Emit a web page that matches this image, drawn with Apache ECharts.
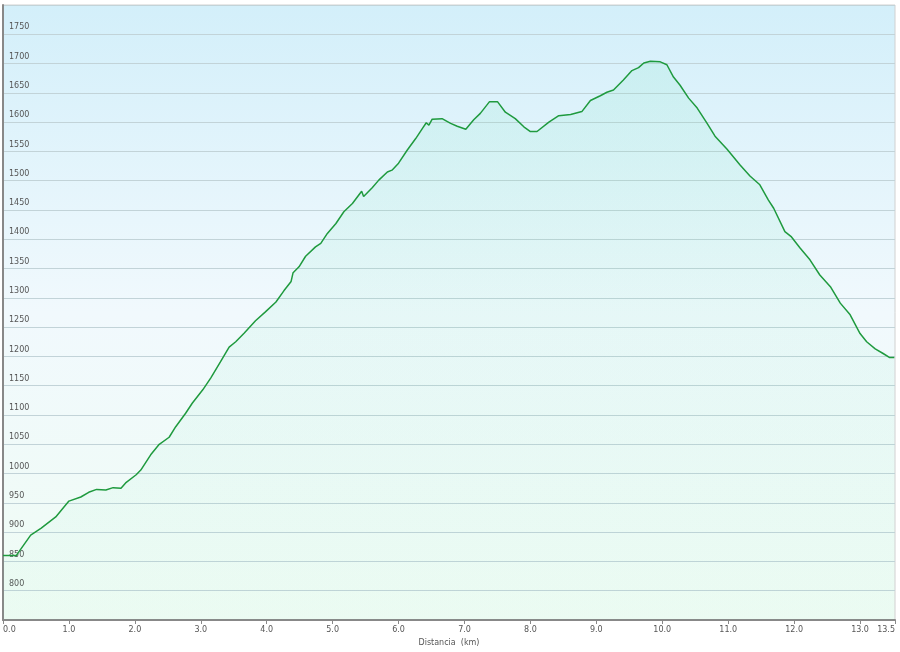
<!DOCTYPE html>
<html>
<head>
<meta charset="utf-8">
<script src="https://cdn.jsdelivr.net/npm/echarts@6/dist/echarts.min.js"></script>
<style>
	html, body { margin: 0; padding: 0; background: #fff; }
	#profileChart { width: 900px; height: 652px; }
</style>
</head>
<body>
<div id="profileChart"></div>
<script>
var distKm = [0, 0.20, 0.42, 0.58, 0.80, 1.00, 1.18, 1.30, 1.42, 1.56, 1.67, 1.79, 1.86, 2.02, 2.09, 2.24,
	2.37, 2.52, 2.62, 2.77, 2.87, 3.03, 3.15, 3.30, 3.43, 3.53, 3.66, 3.83, 3.98, 4.14, 4.26, 4.37,
	4.40, 4.49, 4.59, 4.74, 4.82, 4.92, 5.05, 5.17, 5.30, 5.44, 5.47, 5.60, 5.70, 5.83, 5.90, 6.00,
	6.13, 6.26, 6.36, 6.42, 6.46, 6.51, 6.66, 6.79, 6.89, 7.02, 7.14, 7.24, 7.38, 7.50, 7.62, 7.77,
	7.90, 8.00, 8.10, 8.28, 8.43, 8.61, 8.78, 8.91, 9.06, 9.16, 9.26, 9.41, 9.54, 9.64, 9.72, 9.82,
	9.97, 10.07, 10.17, 10.27, 10.40, 10.53, 10.68, 10.80, 10.98, 11.18, 11.33, 11.48, 11.61, 11.69,
	11.86, 11.96, 12.09, 12.24, 12.39, 12.55, 12.70, 12.85, 13.00, 13.10, 13.23, 13.35, 13.45, 13.52];
var elevM = [860, 860, 895, 907, 926, 953, 960, 968, 973, 972, 976, 975, 984, 998, 1006, 1032,
	1050, 1062, 1080, 1103, 1120, 1143, 1163, 1191, 1216, 1225, 1240, 1261, 1276, 1293, 1312, 1328,
	1343, 1353, 1371, 1387, 1393, 1410, 1427, 1447, 1461, 1482, 1473, 1488, 1501, 1515, 1518, 1530,
	1552, 1572, 1589, 1599, 1595, 1605, 1606, 1598, 1593, 1588, 1604, 1615, 1635, 1635, 1617, 1606,
	1592, 1584, 1584, 1600, 1611, 1613, 1618, 1637, 1645, 1651, 1655, 1672, 1688, 1693, 1701, 1704,
	1703, 1698, 1677, 1663, 1641, 1624, 1598, 1576, 1554, 1527, 1508, 1493, 1467, 1453,
	1413, 1404, 1385, 1365, 1339, 1319, 1291, 1271, 1239, 1225, 1213, 1205, 1198, 1198];

var distMax = 13.53;

var chart = echarts.init(document.getElementById("profileChart"));

var profileData = distKm.map(function(d, i) {
	return [d, elevM[i]];
});

var option = {
	animation: false,
	textStyle: { fontFamily: 'DejaVu Sans' },
	grid: {
		left: 3,
		right: 5,
		top: 5,
		bottom: 32,
		show: true,
		borderColor: '#d0d0d0',
		borderWidth: 1,
		backgroundColor: new echarts.graphic.LinearGradient(0, 0, 0, 1, [
			{ offset: 0, color: '#d3effa' },
			{ offset: 0.5, color: '#f1f9fd' },
			{ offset: 1, color: '#effcf4' }
		])
	},
	xAxis: {
		type: 'value',
		min: 0,
		max: distMax,
		interval: 1,
		name: 'Distancia  (km)',
		nameLocation: 'middle',
		nameGap: 19,
		nameTextStyle: { fontSize: 8, color: '#555' },
		axisLine: { lineStyle: { color: '#888', width: 2 } },
		axisTick: { show: true, length: 4, lineStyle: { color: '#888' } },
		axisLabel: {
			fontSize: 8,
			color: '#555',
			margin: 6,
			showMinLabel: true,
			showMaxLabel: true,
			alignMinLabel: 'left',
			alignMaxLabel: 'right',
			formatter: function(v) {
				return (Math.floor(v * 10 + 1e-6) / 10).toFixed(1);
			}
		},
		splitLine: { show: false }
	},
	yAxis: {
		type: 'value',
		min: 750,
		max: 1800,
		interval: 50,
		axisLine: { show: true, lineStyle: { color: '#888', width: 2 } },
		axisTick: { show: false },
		axisLabel: {
			inside: true,
			fontSize: 8,
			color: '#555',
			margin: 6,
			verticalAlign: 'bottom',
			padding: [0, 0, 3, 0],
			showMinLabel: false,
			showMaxLabel: false,
			formatter: function(v) { return String(v); }
		},
		splitLine: { show: true, lineStyle: { color: '#c2d3d8', width: 1 } }
	},
	series: [{
		type: 'line',
		data: profileData,
		showSymbol: false,
		symbol: 'none',
		smooth: false,
		lineStyle: { color: '#1f9a3e', width: 1.5 },
		areaStyle: {
			color: new echarts.graphic.LinearGradient(0, 0, 0, 1, [
				{ offset: 0, color: 'rgba(90, 225, 170, 0.16)' },
				{ offset: 1, color: 'rgba(90, 225, 170, 0.04)' }
			])
		},
		z: 3
	}]
};
chart.setOption(option);
</script>
</body>
</html>
